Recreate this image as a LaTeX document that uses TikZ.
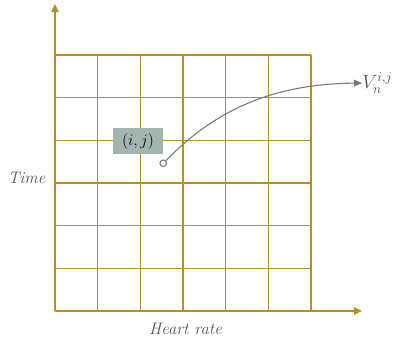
\documentclass[tikz,border=0pt]{standalone}
\usetikzlibrary{arrows.meta}
\definecolor{gold}{HTML}{B68E2A}
\definecolor{boxfill}{HTML}{A3B5B0}
\definecolor{txt}{HTML}{555555}
\definecolor{arr}{HTML}{777777}
\begin{document}
\begin{tikzpicture}[x=0.75pt,y=-0.75pt,
  gridline/.style={draw=gold,line width=1.05pt},
  axis/.style={draw=gold,line width=1.05pt,-{Triangle[length=6pt,width=5.5pt]}},
  lbl/.style={text=txt,font=\fontsize{12.5}{14}\selectfont\itshape,inner sep=0pt},
  cellbox/.style={fill=boxfill,minimum width=38pt,minimum height=20pt,inner sep=0pt,font=\fontsize{12}{14}\selectfont},
  link/.style={draw=arr,line width=0.8pt,-{Triangle[length=6pt,width=5pt]}}]
\useasboundingbox (0,0) rectangle (396,347);
\coordinate (o) at (55,311);
\coordinate (ytip) at (55,4);
\coordinate (xtip) at (362,311);
\foreach \i in {0,...,6} {
  \draw[gridline] ({55+\i*256/6},55) -- ({55+\i*256/6},311);
  \draw[gridline] (55,{55+\i*256/6}) -- (311,{55+\i*256/6});
}
\draw[axis] (o) -- (ytip);
\draw[axis] (o) -- (xtip);
\node[cellbox] (cell) at (138,141) {$(i,j)$};
\node[circle,draw=arr,fill=white,line width=0.8pt,minimum size=5pt,inner sep=0pt] (pt) at (163.3,163.3) {};
\node[anchor=west,inner sep=0pt,text=txt,font=\fontsize{14}{16}\selectfont] (v) at (362,83) {$V_n^{i,j}$};
\draw[link] (pt) .. controls (220,105) and (280,84) .. (v.west);
\node[lbl] (time) at (26.5,178) {Time};
\node[lbl] (hr) at (185.5,328.5) {Heart rate};
\end{tikzpicture}
\end{document}
